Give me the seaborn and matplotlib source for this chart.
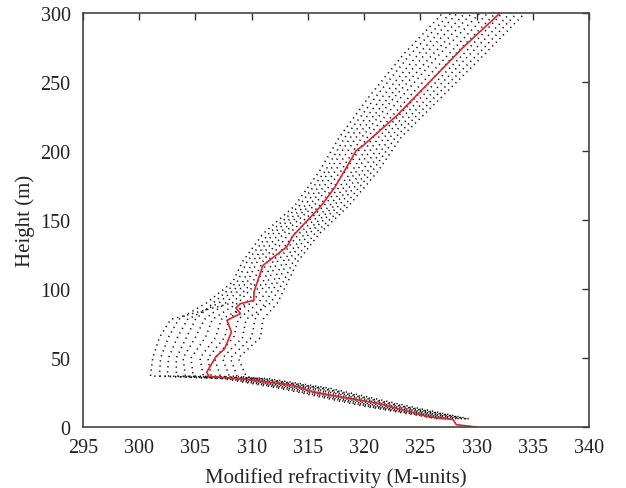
import numpy as np
import pandas as pd
import matplotlib
matplotlib.use("Agg")
import matplotlib.pyplot as plt
import seaborn as sns

# Heights (m) at which the individual profiles are read
heights = [6, 15, 28, 35, 37, 50, 65, 78, 90, 105, 120, 140, 160, 185, 210, 240, 270, 300]

# Individual modified refractivity profiles (M-units), dotted black
profile_01 = [327.9, 321.8, 314.5, 309.3, 301.0, 301.2, 301.8, 302.8, 308.3, 310.1, 311.0, 312.8, 315.5, 317.9, 319.8, 322.8, 326.1, 329.6]
profile_02 = [329.0, 323.3, 316.2, 310.8, 303.3, 303.3, 304.2, 305.0, 306.6, 308.7, 309.6, 311.5, 314.2, 316.5, 318.3, 321.1, 324.1, 327.7]
profile_03 = [327.0, 320.7, 313.3, 308.2, 305.7, 305.4, 306.8, 307.3, 310.0, 311.4, 312.3, 314.2, 316.9, 319.3, 321.3, 324.7, 328.1, 331.7]
profile_04 = [329.3, 324.0, 317.0, 311.5, 308.0, 307.4, 309.2, 309.5, 311.7, 312.8, 313.7, 315.6, 318.2, 320.7, 322.8, 326.4, 330.1, 333.6]
profile_05 = [326.5, 320.0, 312.5, 307.5, 301.8, 301.9, 302.6, 303.5, 306.0, 308.3, 309.2, 311.0, 313.8, 316.0, 317.8, 320.5, 323.5, 327.0]
profile_06 = [328.4, 322.6, 315.4, 310.1, 309.5, 308.8, 310.8, 311.0, 312.3, 313.2, 314.1, 316.0, 318.6, 321.2, 323.3, 327.0, 330.7, 334.3]
profile_07 = [327.3, 321.1, 313.7, 308.6, 304.1, 303.9, 305.0, 305.8, 307.7, 309.6, 310.5, 312.4, 315.1, 317.4, 319.3, 322.3, 325.4, 329.0]
profile_08 = [329.1, 323.6, 316.6, 311.1, 306.4, 306.1, 307.6, 308.0, 309.5, 311.0, 311.9, 313.8, 316.4, 318.9, 320.8, 324.1, 327.5, 331.0]
profile_09 = [326.8, 320.4, 312.9, 307.9, 302.5, 302.6, 303.4, 304.3, 307.1, 309.2, 310.1, 311.9, 314.7, 316.9, 318.8, 321.7, 324.8, 328.3]
profile_10 = [328.2, 322.2, 315.0, 309.7, 308.7, 308.1, 310.0, 310.3, 311.2, 312.3, 313.2, 315.1, 317.7, 320.3, 322.3, 325.8, 329.4, 333.0]
profile_11 = [328.7, 322.9, 315.8, 310.4, 304.8, 304.6, 305.9, 306.5, 308.8, 310.5, 311.4, 313.3, 316.0, 318.3, 320.3, 323.4, 326.7, 330.3]
profile_12 = [327.6, 321.4, 314.1, 308.9, 307.2, 306.7, 308.4, 308.8, 310.6, 311.9, 312.8, 314.7, 317.3, 319.8, 321.8, 325.2, 328.8, 332.3]

profiles = [profile_01, profile_02, profile_03, profile_04, profile_05, profile_06,
            profile_07, profile_08, profile_09, profile_10, profile_11, profile_12]

# Mean profile (red)
mean_height = [0, 1.7, 5.5, 7.2, 16.9, 25.3, 30.2, 34.5, 36.7, 39.8, 50.7, 56.8, 62.8, 68.8,
               77.3, 82.2, 86.3, 89.4, 91.8, 97.8, 117.1, 130.4, 138.8, 160.5, 173.8,
               200.3, 203.9, 225.6, 249.8, 275.1, 300]
mean_m = [330.0, 328.2, 327.9, 325.8, 321.4, 315.5, 313.7, 309.6, 306.2, 306.0, 306.8, 307.6, 307.9, 308.2,
          307.8, 309.0, 308.6, 309.0, 310.2, 310.2, 311.0, 313.1, 313.7, 316.2, 317.4,
          319.3, 319.9, 322.9, 325.8, 328.8, 332.1]

x_ticks = [295, 300, 305, 310, 315, 320, 325, 330, 335, 340]
y_ticks = [0, 50, 100, 150, 200, 250, 300]

sns.set_theme(style="white")
plt.rcParams['font.family'] = ['Liberation Serif', 'DejaVu Serif']

fig = plt.figure(figsize=(6.26, 4.89), dpi=100)
ax = fig.add_axes([0.1326, 0.1247, 0.8083, 0.8467])

for i, prof in enumerate(profiles):
    df = pd.DataFrame({"M": prof, "h": heights})
    sns.lineplot(data=df, x="M", y="h", sort=False, estimator=None, ax=ax,
                 color="black", linestyle=(0, (0.8, 2.6)), linewidth=1.1)

dfm = pd.DataFrame({"M": mean_m, "h": mean_height})
sns.lineplot(data=dfm, x="M", y="h", sort=False, estimator=None, ax=ax,
             color="#e8202a", linewidth=1.2)

ax.set_xlim(295, 340)
ax.set_ylim(0, 300)
ax.set_xticks(x_ticks)
ax.set_yticks(y_ticks)
ax.set_xlabel("Modified refractivity (M-units)", fontsize=15, labelpad=7)
ax.set_ylabel("Height (m)", fontsize=15, labelpad=4)
ax.tick_params(direction="in", length=5, width=1, top=True, right=True,
               labelsize=14.5, colors="#333333", labelcolor="#222222")
ax.tick_params(axis="x", pad=8)
ax.tick_params(axis="y", pad=9)
for s in ax.spines.values():
    s.set_color("#444444")
    s.set_linewidth(1.2)
ax.grid(False)

fig.savefig("out.png", dpi=100)
